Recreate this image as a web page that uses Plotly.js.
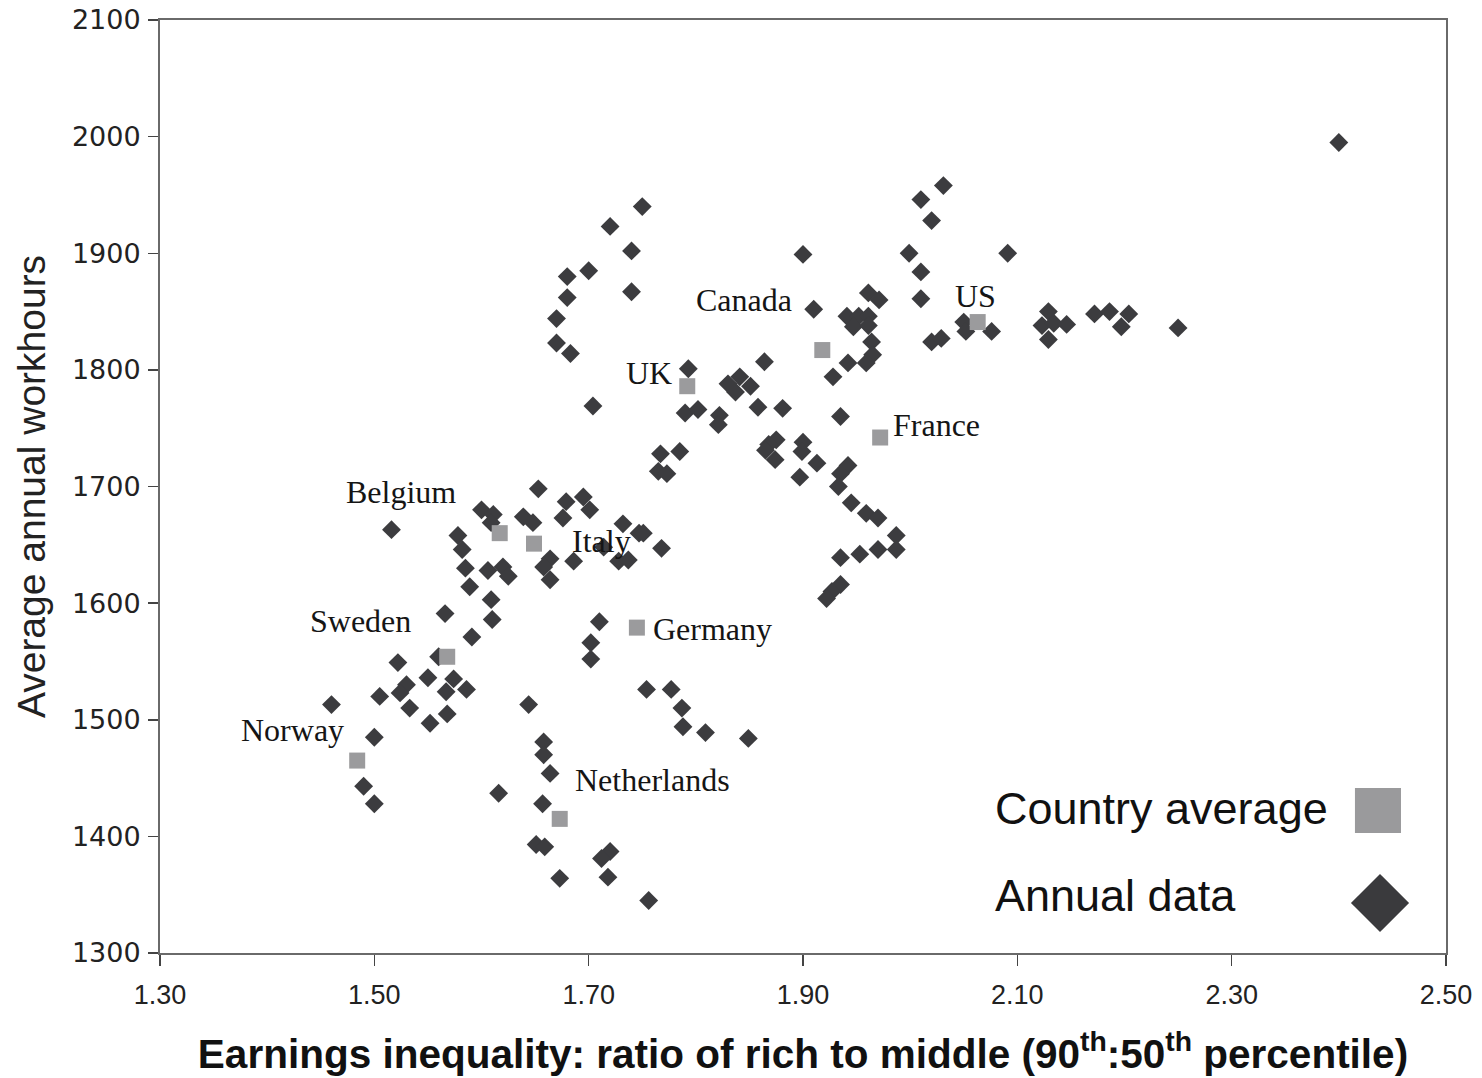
<!DOCTYPE html>
<html>
<head>
<meta charset="utf-8">
<script src="https://cdn.plot.ly/plotly-3.0.1.min.js"></script>
<style>
html,body{margin:0;padding:0;background:#fff;}
#chart{width:1482px;height:1078px;}
</style>
</head>
<body>
<div id="chart"></div>
<script>
// Annual data (earnings ratio 90:50, average annual workhours)
const annualX = [
  1.750,1.720,1.740,1.700,1.680,1.740,1.680,1.670,1.670,1.683,1.704,1.793,
  2.031,2.010,2.020,1.900,1.999,2.091,2.010,2.010,2.400,1.910,1.961,1.971,
  1.941,1.952,1.961,1.947,1.961,1.964,1.965,1.959,1.942,1.928,
  2.020,2.029,2.050,2.052,2.076,2.129,2.123,2.134,2.129,2.146,2.172,2.186,2.204,2.197,2.250,
  1.864,1.830,1.841,1.837,1.851,1.858,1.881,1.790,1.802,1.822,1.821,1.935,
  1.875,1.868,1.865,1.874,1.900,1.899,1.913,1.897,1.942,1.935,1.933,1.945,
  1.959,1.970,1.987,1.987,1.970,1.953,1.935,1.935,1.927,1.922,
  1.767,1.785,1.765,1.773,
  1.653,1.516,1.600,1.611,1.609,1.639,1.648,1.679,1.695,1.701,1.676,
  1.578,1.582,1.585,1.589,1.606,1.620,1.625,1.609,1.610,1.566,1.591,
  1.664,1.658,1.664,1.686,1.732,1.747,1.714,1.728,1.737,1.768,1.751,
  1.710,1.702,1.702,1.754,1.777,1.787,1.788,1.809,1.849,
  1.560,1.522,1.550,1.574,1.586,1.567,1.530,1.524,1.505,1.533,1.568,1.552,
  1.460,1.500,1.490,1.500,1.616,1.644,
  1.658,1.658,1.664,1.657,1.651,1.659,1.673,1.720,1.712,1.718,1.756
];
const annualY = [
  1940,1923,1902,1885,1880,1867,1862,1844,1823,1814,1769,1801,
  1958,1946,1928,1899,1900,1900,1884,1861,1995,1852,1866,1860,
  1846,1846,1846,1837,1838,1824,1813,1806,1806,1794,
  1824,1827,1841,1833,1833,1850,1838,1840,1826,1839,1848,1850,1848,1837,1836,
  1807,1788,1794,1781,1786,1768,1767,1763,1766,1761,1753,1760,
  1740,1736,1731,1723,1738,1730,1720,1708,1718,1711,1700,1686,
  1677,1673,1658,1646,1646,1642,1639,1616,1610,1604,
  1728,1730,1713,1711,
  1698,1663,1680,1676,1669,1674,1669,1687,1691,1680,1673,
  1658,1646,1630,1614,1628,1631,1623,1603,1586,1591,1571,
  1638,1631,1620,1636,1668,1660,1648,1636,1637,1647,1660,
  1584,1566,1552,1526,1526,1510,1494,1489,1484,
  1554,1549,1536,1535,1526,1524,1530,1523,1520,1510,1505,1497,
  1513,1485,1443,1428,1437,1513,
  1481,1470,1454,1428,1393,1391,1364,1387,1381,1365,1345
];

// Country averages
const countries = ["UK","Canada","US","France","Belgium","Italy","Germany","Sweden","Norway","Netherlands"];
const avgX = [1.792,1.918,2.063,1.972,1.617,1.649,1.745,1.568,1.484,1.673];
const avgY = [1786,1817,1841,1742,1660,1651,1579,1554,1465,1415];

// Country label anchor points
const labelX = [1.756,1.845,2.061,2.025,1.525,1.712,1.816,1.487,1.424,1.760];
const labelY = [1797,1860,1863,1753,1695,1653,1578,1585,1491,1448];

// Axis ticks
const xTicks = [1.30,1.50,1.70,1.90,2.10,2.30,2.50];
const xTickText = ["1.30","1.50","1.70","1.90","2.10","2.30","2.50"];
const yTicks = [1300,1400,1500,1600,1700,1800,1900,2000,2100];

// Legend entries
const legendNames = ["Country average","Annual data"];

const traces = [
  {
    type: "scatter", mode: "markers", name: legendNames[1],
    x: annualX, y: annualY,
    marker: {symbol: "diamond", size: 14.5, color: "#3c3c3f", line: {width: 0}},
    hoverinfo: "x+y"
  },
  {
    type: "scatter", mode: "markers", name: legendNames[0],
    x: avgX, y: avgY, text: countries,
    marker: {symbol: "square", size: 16, color: "#9b9b9d", line: {width: 0}},
    hoverinfo: "text+x+y"
  }
];

const annotations = countries.map((c, i) => ({
  x: labelX[i], y: labelY[i], xref: "x", yref: "y",
  text: c, showarrow: false, xanchor: "center", yanchor: "middle",
  font: {family: "Liberation Serif, Times New Roman, serif", size: 32, color: "#151515"}
}));

// Custom legend (text left, symbol right)
annotations.push({
  x: 0.6478, y: 0.1554, xref: "paper", yref: "paper", text: legendNames[0],
  showarrow: false, xanchor: "left", yanchor: "middle",
  font: {family: "Liberation Sans, Arial, sans-serif", size: 45, color: "#111"}
});
annotations.push({
  x: 0.6478, y: 0.0611, xref: "paper", yref: "paper", text: legendNames[1],
  showarrow: false, xanchor: "left", yanchor: "middle",
  font: {family: "Liberation Sans, Arial, sans-serif", size: 45, color: "#111"}
});

const cx = 0.9487, cy = 0.0536, dx = 0.0226, dy = 0.0311;
const shapes = [
  {type: "rect", xref: "paper", yref: "paper",
   x0: 0.9292, x1: 0.9650, y0: 0.1286, y1: 0.1768,
   fillcolor: "#9a9a9c", line: {width: 0}},
  {type: "path", xref: "paper", yref: "paper",
   path: `M ${cx-dx},${cy} L ${cx},${cy+dy} L ${cx+dx},${cy} L ${cx},${cy-dy} Z`,
   fillcolor: "#3a3a3d", line: {width: 0}}
];

const layout = {
  width: 1482, height: 1078,
  margin: {l: 160, r: 36, t: 20, b: 125, pad: 0},
  paper_bgcolor: "#fff", plot_bgcolor: "#fff",
  showlegend: false,
  xaxis: {
    range: [1.30, 2.50], tickvals: xTicks, ticktext: xTickText,
    showgrid: false, zeroline: false,
    showline: true, linecolor: "#6a6a6a", linewidth: 2, mirror: true,
    ticks: "outside", ticklen: 11, tickwidth: 1.5, tickcolor: "#444",
    ticklabelstandoff: 6,
    tickfont: {family: "Liberation Sans, Arial, sans-serif", size: 27, color: "#222"},
    title: {
      text: "<b>Earnings inequality: ratio of rich to middle (90<sup>th</sup>:50<sup>th</sup> percentile)</b>",
      font: {family: "Liberation Sans, Arial, sans-serif", size: 40.5, color: "#111"},
      standoff: 30
    }
  },
  yaxis: {
    range: [1300, 2100], tickvals: yTicks,
    showgrid: false, zeroline: false,
    showline: true, linecolor: "#6a6a6a", linewidth: 2, mirror: true,
    ticks: "outside", ticklen: 10, tickwidth: 1.5, tickcolor: "#444",
    ticklabelstandoff: 2,
    tickfont: {family: "DejaVu Sans, Verdana, sans-serif", size: 27, color: "#222"},
    title: {
      text: "Average annual workhours",
      font: {family: "Liberation Sans, Arial, sans-serif", size: 39, color: "#222"},
      standoff: 14
    }
  },
  annotations: annotations,
  shapes: shapes
};

Plotly.newPlot("chart", traces, layout, {displayModeBar: false, staticPlot: true});
</script>
</body>
</html>
